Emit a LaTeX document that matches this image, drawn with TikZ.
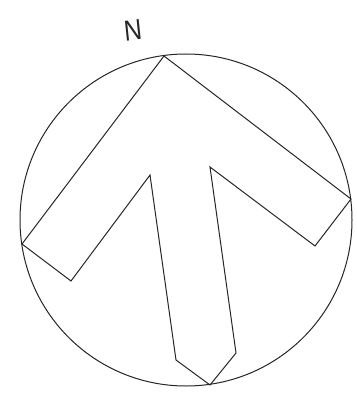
\documentclass[tikz,border=0pt]{standalone}
\usepackage{fontspec}
\setmainfont{Liberation Sans}
\begin{document}
\begin{tikzpicture}[x=1pt,y=-1pt,
  outline/.style={draw=black!85,line width=1pt,line join=miter},
  label/.style={font=\fontsize{29}{29}\selectfont,inner sep=0pt,text=black!85,xscale=0.85}]
\useasboundingbox (0,0) rectangle (356,393);
\draw[outline] (186,220) circle (166);
\draw[outline] (164,56) -- (351,199) -- (315,246) -- (210,167) -- (236,353)
  -- (210,385) -- (176,360) -- (150,175) -- (71,281) -- (22,244) -- cycle;
\node[label,rotate=7] (north) at (133,30) {N};
\end{tikzpicture}
\end{document}
